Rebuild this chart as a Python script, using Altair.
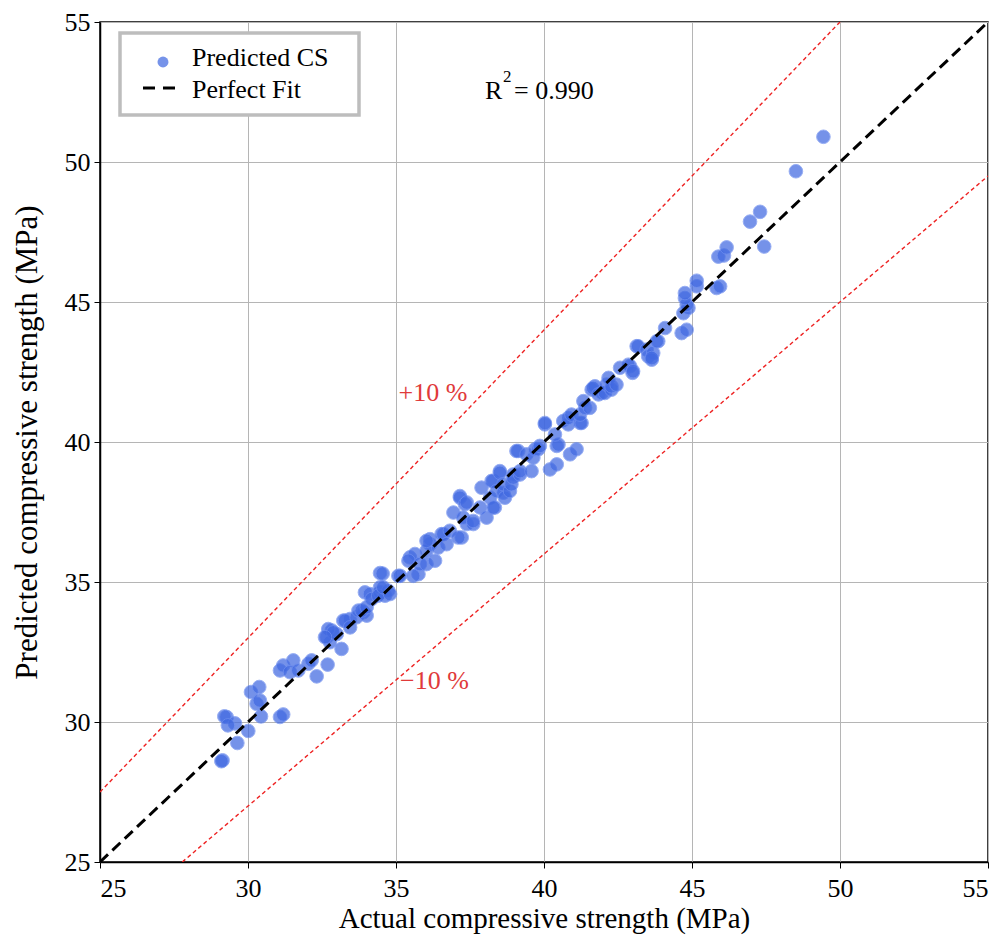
import altair as alt
import pandas as pd

# ---- data ----
actual = [29.14, 29.10, 29.28, 29.20, 29.56, 29.32, 29.64, 30.01, 30.10, 30.38, 30.29, 30.40, 30.44,
          31.08, 31.19, 31.08, 31.19, 31.53, 31.42, 31.70, 32.04, 32.15, 32.32, 32.69, 32.66, 32.83,
          33.00, 32.77, 33.16, 32.71, 32.88, 32.60, 33.22, 33.45, 33.28, 33.45, 33.67, 33.73, 33.90,
          34.01, 33.84, 34.01, 33.95, 34.12, 34.18, 34.46, 34.46, 34.63, 34.74, 34.40, 34.57, 34.80,
          34.46, 34.55, 35.08, 35.14, 35.47, 35.64, 35.76, 35.58, 35.42, 35.81, 36.03, 36.15, 36.03,
          36.15, 36.32, 36.43, 36.03, 36.54, 36.60, 36.71, 36.82, 36.94, 37.16, 37.16, 37.22, 37.10,
          37.33, 37.39, 37.39, 37.27, 37.61, 37.61, 37.84, 37.89, 38.06, 38.18, 38.34, 38.29, 38.29,
          38.23, 38.40, 38.51, 38.51, 38.63, 38.63, 38.68, 38.85, 38.90, 38.96, 38.96, 39.13, 39.07,
          39.19, 39.19, 39.41, 39.58, 39.64, 39.70, 39.81, 39.86, 40.03, 40.03, 40.20, 40.43, 40.43,
          40.49, 40.37, 40.88, 41.10, 40.82, 40.65, 40.82, 40.93, 41.22, 41.27, 41.22, 41.39, 41.33,
          41.55, 41.61, 41.72, 41.66, 41.84, 41.95, 42.06, 42.11, 42.18, 42.28, 42.28, 42.45, 42.57,
          42.91, 42.85, 42.99, 43.01, 43.13, 43.18, 43.47, 43.52, 43.69, 43.64, 43.64, 43.86, 43.81,
          44.09, 44.65, 44.82, 44.71, 44.88, 44.82, 44.76, 44.76, 45.16, 45.16, 45.83, 45.95, 45.89,
          46.08, 46.17, 47.44, 46.96, 47.30, 48.51, 49.44]
predicted = [28.63, 28.60, 30.18, 30.20, 29.95, 29.88, 29.25, 29.68, 31.07, 31.25, 30.65, 30.77, 30.20,
             30.18, 30.27, 31.84, 32.02, 32.20, 31.78, 31.84, 32.08, 32.20, 31.63, 32.05, 33.03, 33.27,
             33.14, 32.85, 32.61, 33.32, 33.20, 33.03, 33.62, 33.68, 33.62, 33.38, 33.74, 33.98, 33.92,
             33.80, 33.98, 34.10, 34.63, 34.57, 34.39, 34.63, 34.81, 34.51, 34.69, 34.51, 34.81, 34.57,
             35.32, 35.30, 35.22, 35.22, 35.88, 36.00, 35.28, 35.22, 35.76, 35.64, 35.64, 36.35, 36.11,
             36.53, 35.76, 36.23, 36.47, 36.71, 36.71, 36.35, 36.83, 37.48, 38.07, 38.01, 36.59, 36.59,
             37.78, 37.84, 37.07, 37.30, 37.07, 37.18, 37.66, 38.37, 37.30, 38.01, 37.66, 37.66, 38.61,
             38.61, 38.25, 38.96, 38.90, 38.19, 38.49, 38.01, 38.25, 38.49, 38.84, 38.73, 39.68, 39.68,
             38.84, 38.96, 39.56, 38.96, 39.44, 39.74, 39.74, 39.86, 40.63, 40.68, 39.02, 39.20, 39.86,
             39.91, 40.27, 39.56, 39.74, 40.63, 40.75, 40.86, 40.98, 40.68, 40.68, 40.98, 41.22, 41.46,
             41.22, 41.87, 41.99, 41.93, 41.70, 41.75, 41.75, 42.05, 42.29, 41.87, 41.99, 42.05, 42.65,
             42.71, 42.76, 42.47, 42.53, 43.42, 43.42, 43.30, 43.06, 43.18, 42.94, 43.00, 43.60, 43.60,
             44.07, 43.89, 44.01, 44.60, 44.79, 44.90, 45.14, 45.32, 45.56, 45.76, 45.50, 45.56, 46.62,
             46.66, 46.95, 46.98, 47.87, 48.22, 49.67, 50.90]

fit_x = [25, 55]
fit_y = [25, 55]
plus_x = [25, 50]
plus_y = [27.5, 55]
minus_x = [27.78, 55]
minus_y = [25, 49.5]

ticks = [25, 30, 35, 40, 45, 50, 55]
label_text = ["+10 %", "\u221210 %"]
label_x = [36.25, 36.3]
label_y = [41.75, 31.45]

FONT = "Liberation Serif"

pts = pd.DataFrame({"actual": actual, "predicted": predicted})
fit = pd.DataFrame({"x": fit_x, "y": fit_y})
plus = pd.DataFrame({"x": plus_x, "y": plus_y})
minus = pd.DataFrame({"x": minus_x, "y": minus_y})
labs = pd.DataFrame({"t": label_text, "x": label_x, "y": label_y})
one = pd.DataFrame({"k": [0]})

xs = alt.Scale(domain=[25, 55], nice=False, zero=False)
ys = alt.Scale(domain=[25, 55], nice=False, zero=False)

xaxis = alt.Axis(values=ticks, title="Actual compressive strength (MPa)", grid=True,
                 titleFontSize=29, titlePadding=3)
yaxis = alt.Axis(values=ticks, title="Predicted compressive strength (MPa)", grid=True,
                 titleFontSize=31, titlePadding=21)

points = alt.Chart(pts).mark_circle(
    size=185, color="#4169e1", opacity=0.72, stroke="#6f8ff0", strokeWidth=1
).encode(
    x=alt.X("actual:Q", scale=xs, axis=xaxis),
    y=alt.Y("predicted:Q", scale=ys, axis=yaxis),
)

def ref_line(df, color, width, dash):
    return alt.Chart(df).mark_line(color=color, strokeWidth=width, strokeDash=dash, clip=True).encode(
        x=alt.X("x:Q", scale=xs), y=alt.Y("y:Q", scale=ys)
    )

plus_line = ref_line(plus, "#ee2222", 1.4, [4, 3])
minus_line = ref_line(minus, "#ee2222", 1.4, [4, 3])
fit_line = ref_line(fit, "#000000", 3, [11, 6])

band_labels = alt.Chart(labs).mark_text(
    font=FONT, fontSize=26, color="#e03a3a", align="center", baseline="middle"
).encode(x=alt.X("x:Q", scale=xs), y=alt.Y("y:Q", scale=ys), text="t:N")

# legend box and R^2 note (annotation)
leg_box = alt.Chart(one).mark_rect(fill="white", stroke="#bdbdbd", strokeWidth=3.5).encode(
    x=alt.value(20), x2=alt.value(259), y=alt.value(11), y2=alt.value(93)
)
leg_dot = alt.Chart(one).mark_circle(size=120, color="#4169e1", opacity=0.72).encode(
    x=alt.value(63), y=alt.value(40)
)
leg_dash = alt.Chart(one).mark_rule(color="black", strokeWidth=3, strokeDash=[12, 8]).encode(
    x=alt.value(43), x2=alt.value(78), y=alt.value(66)
)
leg_t1 = alt.Chart(one).mark_text(font=FONT, fontSize=26, align="left", baseline="middle", text="Predicted CS").encode(
    x=alt.value(92), y=alt.value(36)
)
leg_t2 = alt.Chart(one).mark_text(font=FONT, fontSize=26, align="left", baseline="middle", text="Perfect Fit").encode(
    x=alt.value(92), y=alt.value(68)
)
r_main = alt.Chart(one).mark_text(font=FONT, fontSize=26, align="left", baseline="middle", text="R").encode(
    x=alt.value(385), y=alt.value(69)
)
r_sup = alt.Chart(one).mark_text(font=FONT, fontSize=17, align="left", baseline="middle", text="2").encode(
    x=alt.value(403), y=alt.value(55)
)
r_val = alt.Chart(one).mark_text(font=FONT, fontSize=26, align="left", baseline="middle", text="= 0.990").encode(
    x=alt.value(414), y=alt.value(69)
)

chart = alt.layer(
    plus_line, minus_line, points, fit_line, band_labels,
    leg_box, leg_dot, leg_dash, leg_t1, leg_t2, r_main, r_sup, r_val
).properties(
    width=888, height=840,
    autosize=alt.AutoSizeParams(type="none"),
    padding={"left": 92, "top": 14, "right": 11, "bottom": 77},
    background="white",
).configure_view(
    stroke="black", strokeWidth=1.5
).configure_axis(
    labelFont=FONT, titleFont=FONT, labelFontSize=26,
    labelColor="black", titleColor="black", titleFontWeight="normal",
    gridColor="#b5b5b5", gridWidth=1, tickColor="black", tickSize=6,
    domainColor="black", domainWidth=1.5,
).configure_axisX(
    labelPadding=7
).configure_axisY(
    labelPadding=4
)

chart.save("out.html", embed_options={"renderer": "svg", "actions": False})
